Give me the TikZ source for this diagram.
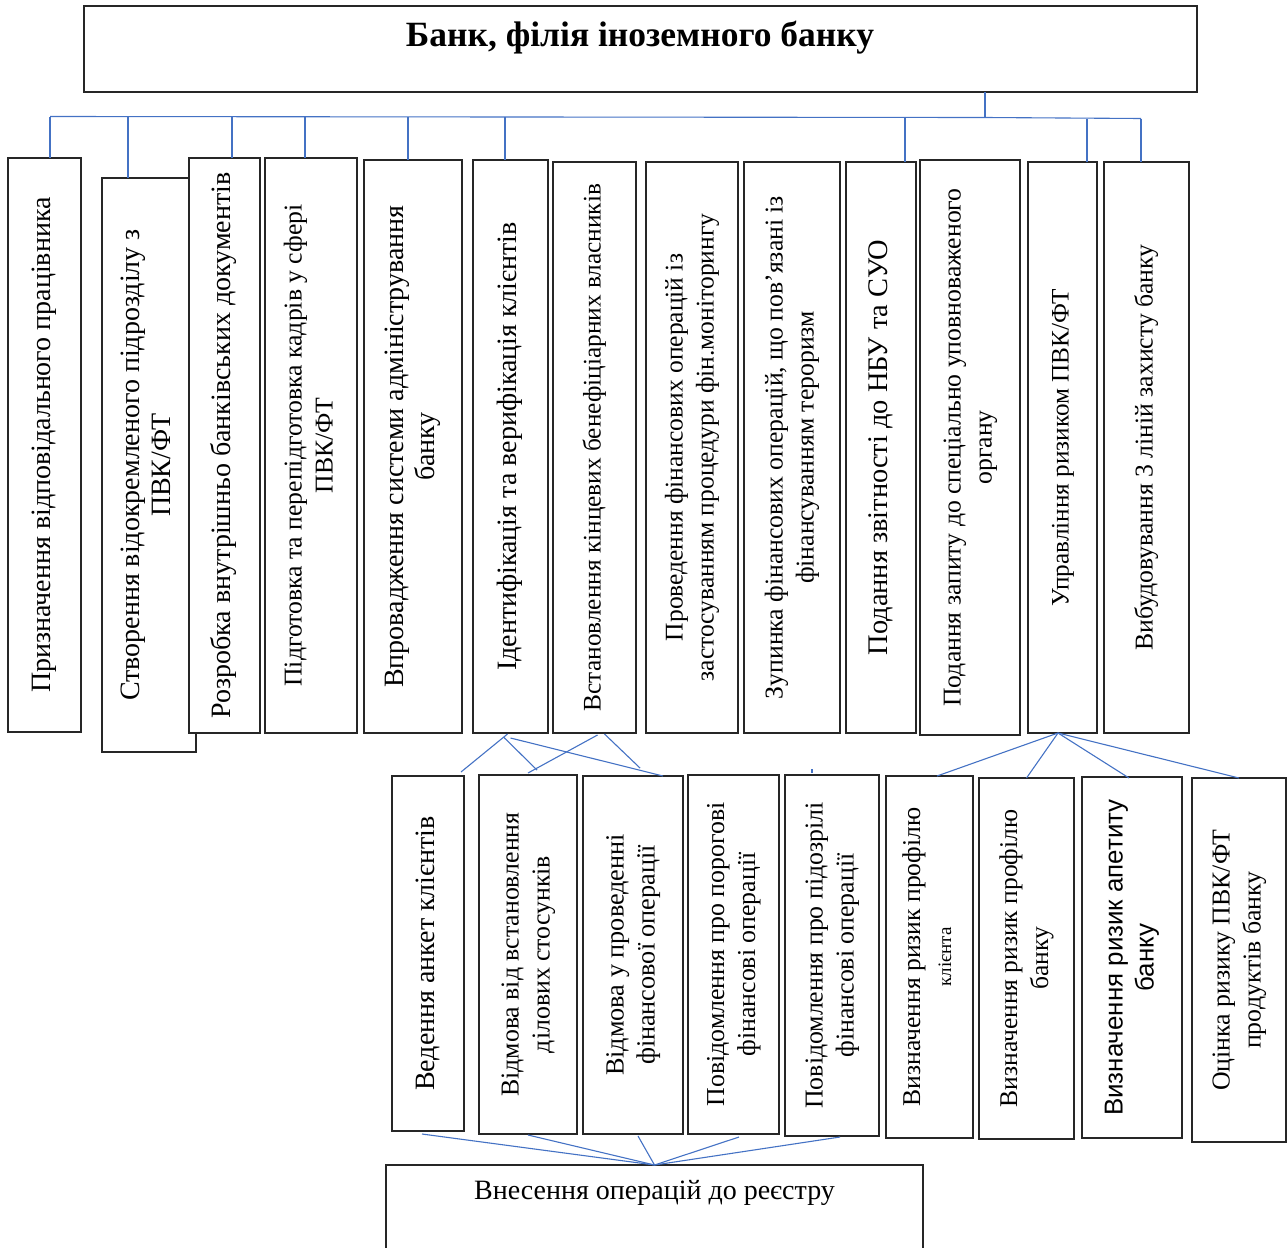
\documentclass[tikz,border=0pt]{standalone}
\usepackage{fontspec}
\setmainfont{Liberation Serif}
\newfontfamily\arialf{Liberation Sans}
\usetikzlibrary{calc}
\definecolor{conncol}{HTML}{4472C4}
\tikzset{
  box/.style={draw=black!85,line width=1.3pt,fill=white,inner sep=0pt,outer sep=0pt,align=center},
  conn/.style={draw=conncol,line width=1.1pt}
}
\newcommand\mybox[7]{\node[box,font=#6,minimum width={#4-#2},minimum height={#5-#3}] (#1) at ({(#2+#4)/2},{(#3+#5)/2}) {\rotatebox{90}{\begin{tabular}{@{}c@{}}#7\end{tabular}}};}
\newcommand\fsz[1]{\fontsize{#1}{31}\selectfont}
\begin{document}
\begin{tikzpicture}[x=1pt,y=-1pt]
\useasboundingbox (0,0) rectangle (1287,1247);
% top
\node[box,minimum width=1113,minimum height=86] (top) at (640.5,49) {};
\node[font=\bfseries\fontsize{35.5}{40}\selectfont,inner sep=0pt] (title) at (640,38) {Банк, філія іноземного банку};
% upper row
\mybox{b1}{8}{158}{81}{732}{\fsz{28}}{Призначення відповідального працівника}
\mybox{b2}{102}{178}{196}{752}{\fsz{28}}{Створення відокремленого підрозділу з\\ПВК/ФТ}
\mybox{b3}{189}{158}{260}{733}{\fsz{28}}{Розробка внутрішньо банківських документів}
\mybox{b4}{265}{158}{357}{733}{\fsz{25.7}}{Підготовка та перепідготовка кадрів у сфері\\ПВК/ФТ}
\mybox{b5}{364}{160}{462}{733}{\fsz{28}}{Впровадження системи адміністрування\\банку}
\mybox{b6}{473}{160}{548}{733}{\fsz{28}}{Ідентифікація та верифікація клієнтів}
\mybox{b7}{553}{162}{636}{733}{\fsz{25.3}}{Встановлення кінцевих бенефіціарних власників}
\mybox{b8}{646}{162}{738}{733}{\fsz{25.5}}{Проведення фінансових операцій із\\застосуванням процедури фін.моніторингу}
\mybox{b9}{744}{162}{840}{733}{\fsz{25.7}}{Зупинка фінансових операцій, що пов’язані із\\фінансуванням тероризм}
\mybox{b10}{846}{162}{916}{733}{\fsz{28.4}}{Подання звітності до НБУ та СУО}
\mybox{b11}{920}{160}{1020}{735}{\fsz{25.7}}{Подання запиту до спеціально уповноваженого\\органу}
\mybox{b12}{1028}{162}{1097}{733}{\fsz{25.2}}{Управління ризиком ПВК/ФТ}
\mybox{b13}{1104}{162}{1189}{733}{\fsz{25.7}}{Вибудовування 3 ліній захисту банку}
% bus
\coordinate (busL) at (50,116.5);
\coordinate (busM) at (985,117.5);
\coordinate (busR) at (1141,118.5);
\draw[conn] (top.south -| busM) -- (busM);
\draw[conn] (busL) -- (busM) -- (busR);
\draw[conn] ([xshift=5.5pt]b1.north) -- ([xshift=5.5pt]b1.north |- busL);
\draw[conn] ([xshift=-21pt]b2.north) -- ([xshift=-21pt]b2.north |- busL);
\draw[conn] ([xshift=7.5pt]b3.north) -- ([xshift=7.5pt]b3.north |- busL);
\draw[conn] ([xshift=-6pt]b4.north) -- ([xshift=-6pt]b4.north |- busL);
\draw[conn] ([xshift=-5pt]b5.north) -- ([xshift=-5pt]b5.north |- busL);
\draw[conn] ([xshift=-5.5pt]b6.north) -- ([xshift=-5.5pt]b6.north |- busL);
\draw[conn] ([xshift=24pt]b10.north) -- ([xshift=24pt]b10.north |- busM);
\draw[conn] ([xshift=24.5pt]b12.north) -- ([xshift=24.5pt]b12.north |- busR);
\draw[conn] ([xshift=-5.5pt]b13.north) -- (busR);
% lower row
\mybox{l1}{392}{776}{464}{1131}{\fsz{28}}{Ведення анкет клієнтів}
\mybox{l2}{479}{775}{577}{1134}{\fsz{25.8}}{Відмова від встановлення\\ділових стосунків}
\mybox{l3}{583}{776}{683}{1134}{\fsz{26.2}}{Відмова у проведенні\\фінансової операції}
\mybox{l4}{688}{775}{779}{1134}{\fsz{25.8}}{Повідомлення про порогові\\фінансові операції}
\mybox{l5}{785}{775}{879}{1136}{\fsz{25.8}}{Повідомлення про підозрілі\\фінансові операції}
\mybox{r1}{886}{776}{973}{1138}{\fsz{25.6}}{Визначення ризик профілю\\{\fontsize{19}{20}\selectfont клієнта}}
\mybox{r2}{979}{778}{1074}{1139}{\fsz{25.5}}{Визначення ризик профілю\\банку}
\mybox{r3}{1082}{777}{1182}{1138}{\arialf\fsz{25.9}}{Визначення ризик апетиту\\банку}
\mybox{r4}{1192}{778}{1286}{1142}{\fsz{25.8}}{Оцінка ризику ПВК/ФТ\\продуктів банку}
% register
\node[box,minimum width=537,minimum height=84] (reg) at (654.5,1207) {};
\node[font=\fontsize{28}{32}\selectfont,inner sep=0pt] (regt) at (654.5,1193) {Внесення операцій до реєстру};
% lower-left connectors
\draw[conn] ([xshift=-3pt,yshift=-1pt]b6.south) -- ([xshift=-3pt,yshift=4pt]l1.north east);
\draw[conn] ([xshift=-7pt,yshift=-4pt]b6.south) -- ([xshift=9pt,yshift=5pt]l2.north);
\draw[conn] ([xshift=0pt,yshift=-5pt]b6.south) -- ([xshift=30pt]l3.north);
\draw[conn] ([xshift=3pt,yshift=-2pt]b7.south) -- ([xshift=0pt,yshift=2pt]l2.north);
\draw[conn] ([xshift=10pt,yshift=-1pt]b7.south) -- ([xshift=7pt,yshift=8pt]l3.north);
\draw[conn] ([xshift=-20pt,yshift=2pt]l5.north) -- ([xshift=-20pt,yshift=6pt]l5.north);
% right connectors
\draw[conn] ([xshift=-4.5pt]b12.south) -- ([xshift=7.5pt]r1.north);
\draw[conn] ([xshift=-4.5pt]b12.south) -- (r2.north);
\draw[conn] ([xshift=-4.5pt]b12.south) -- ([xshift=-3pt,yshift=-1pt]r3.north);
\draw[conn] ([xshift=-4.5pt]b12.south) -- (r4.north);
% bottom connectors
\draw[conn] ([xshift=-6pt,yshift=-3pt]l1.south) -- (reg.north);
\draw[conn] ([yshift=-1pt]l2.south) -- (reg.north);
\draw[conn] ([xshift=5pt,yshift=-2pt]l3.south) -- (reg.north);
\draw[conn] ([xshift=5.5pt,yshift=-3pt]l4.south) -- (reg.north);
\draw[conn] ([xshift=8pt,yshift=-1pt]l5.south) -- (reg.north);
\end{tikzpicture}
\end{document}
